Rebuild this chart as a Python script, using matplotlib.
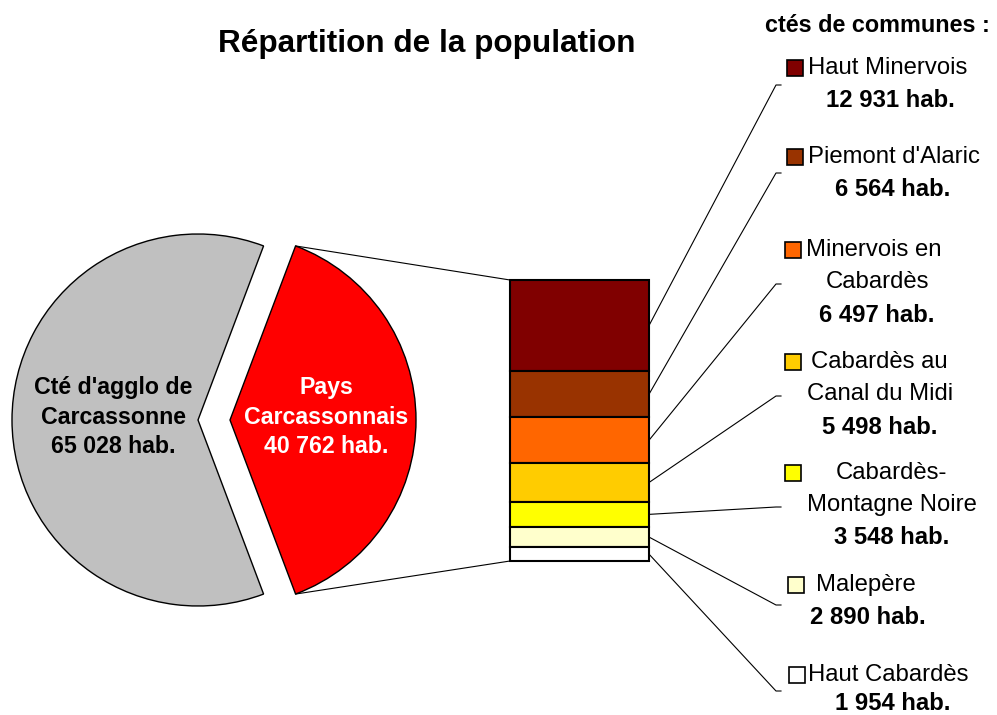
import numpy as np
import matplotlib.pyplot as plt

plt.rcParams['font.family'] = ['Liberation Sans', 'DejaVu Sans']

# --- data ---
title = "Répartition de la population"
header = "ctés de communes :"
pie_labels = ["Pays\nCarcassonnais", "Cté d'agglo de\nCarcassonne"]
pie_values = [40762, 65028]
pie_colors = ["#ff0000", "#c0c0c0"]

cc_names = [["Haut Minervois"], ["Piemont d'Alaric"], ["Minervois en", "Cabardès"],
            ["Cabardès au", "Canal du Midi"], ["Cabardès-", "Montagne Noire"],
            ["Malepère"], ["Haut Cabardès"]]
cc_values = [12931, 6564, 6497, 5498, 3548, 2890, 1954]
cc_colors = ["#800000", "#993300", "#ff6600", "#ffcc00", "#ffff00", "#ffffcc", "#ffffff"]


def fmt(v):
    return f"{v:,}".replace(",", " ") + " hab."


W, H = 997, 715
fig = plt.figure(figsize=(W / 100, H / 100), dpi=100)
ax = fig.add_axes([0, 0, 1, 1])


def py(y):
    # pixel row (from top) -> data y
    return H - y


# --- pie ---
share = pie_values[0] / sum(pie_values)
half = 180 * share
radius = 186
center = (198, py(420))
offset = 32  # explode distance, in pixels
ax.pie(pie_values, colors=pie_colors, startangle=-half, center=center,
       radius=radius, explode=[offset, 0],
       wedgeprops=dict(edgecolor="black", linewidth=1.0))

ax.text(113, py(417), pie_labels[1] + "\n" + fmt(pie_values[1]), ha="center",
        va="center", fontsize=16.7, fontweight="bold", color="black", linespacing=1.38)
ax.text(326, py(417), pie_labels[0] + "\n" + fmt(pie_values[0]), ha="center",
        va="center", fontsize=16.7, fontweight="bold", color="white", linespacing=1.38)

# --- stacked bar ---
bar_x0, bar_x1 = 510, 649
bar_top, bar_bot = 280, 561
scale = (bar_bot - bar_top) / sum(cc_values)
heights = np.array(cc_values) * scale
tops = bar_top + np.concatenate([[0], np.cumsum(heights)[:-1]])
bottoms = py(tops + heights)
ax.bar([(bar_x0 + bar_x1) / 2] * len(cc_values), heights, bottom=bottoms,
       width=bar_x1 - bar_x0, color=cc_colors, edgecolor="black", linewidth=1.5,
       zorder=3)

# connectors from pie wedge to bar
apex_x = center[0] + offset
for sign, by in [(1, bar_top), (-1, bar_bot)]:
    ang = np.radians(sign * half)
    ex = apex_x + radius * np.cos(ang)
    ey = center[1] + radius * np.sin(ang)
    ax.plot([ex, bar_x0], [ey, py(by)], color="black", lw=0.8, zorder=2)

# --- labels on the right ---
label_first_y = [68, 157, 250, 362, 473, 585, 675]
marker_x = [795, 795, 793, 793, 793, 796, 797]
text_x = [808, 808, 806, 811, 836, 816, 808]
center_x = [890, 893, 877, 880, 892, 868, 893]
line_end_y = [85, 173, 284, 396, 507, 605, 691]
line_gap = 32.5

for i, (names, val) in enumerate(zip(cc_names, cc_values)):
    y0 = label_first_y[i]
    ax.plot(marker_x[i], py(y0), marker="s", markersize=11, color=cc_colors[i],
            markeredgecolor="black", markeredgewidth=1.2)
    ax.text(text_x[i], py(y0), names[0], ha="left", va="center", fontsize=17.2)
    for k, extra in enumerate(names[1:], start=1):
        ax.text(center_x[i], py(y0 + k * line_gap), extra, ha="center",
                va="center", fontsize=17.2)
    vy = min(y0 + len(names) * line_gap, 704)
    ax.text(center_x[i], py(vy), fmt(val), ha="center",
            va="center", fontsize=17.2, fontweight="bold")
    # leader line from the middle of the segment
    sy = py(tops[i] + heights[i] / 2)
    ey = py(line_end_y[i])
    ax.plot([bar_x1, 776, 781], [sy, ey, ey], color="black", lw=0.8)

ax.text(427, py(44), title, ha="center", va="center", fontsize=22.7,
        fontweight="bold")
ax.text(765, py(25), header, ha="left", va="center", fontsize=16.8,
        fontweight="bold")

ax.set_xlim(0, W)
ax.set_ylim(0, H)
ax.set_aspect("auto")
ax.set_axis_off()

fig.savefig("out.png", dpi=100)
